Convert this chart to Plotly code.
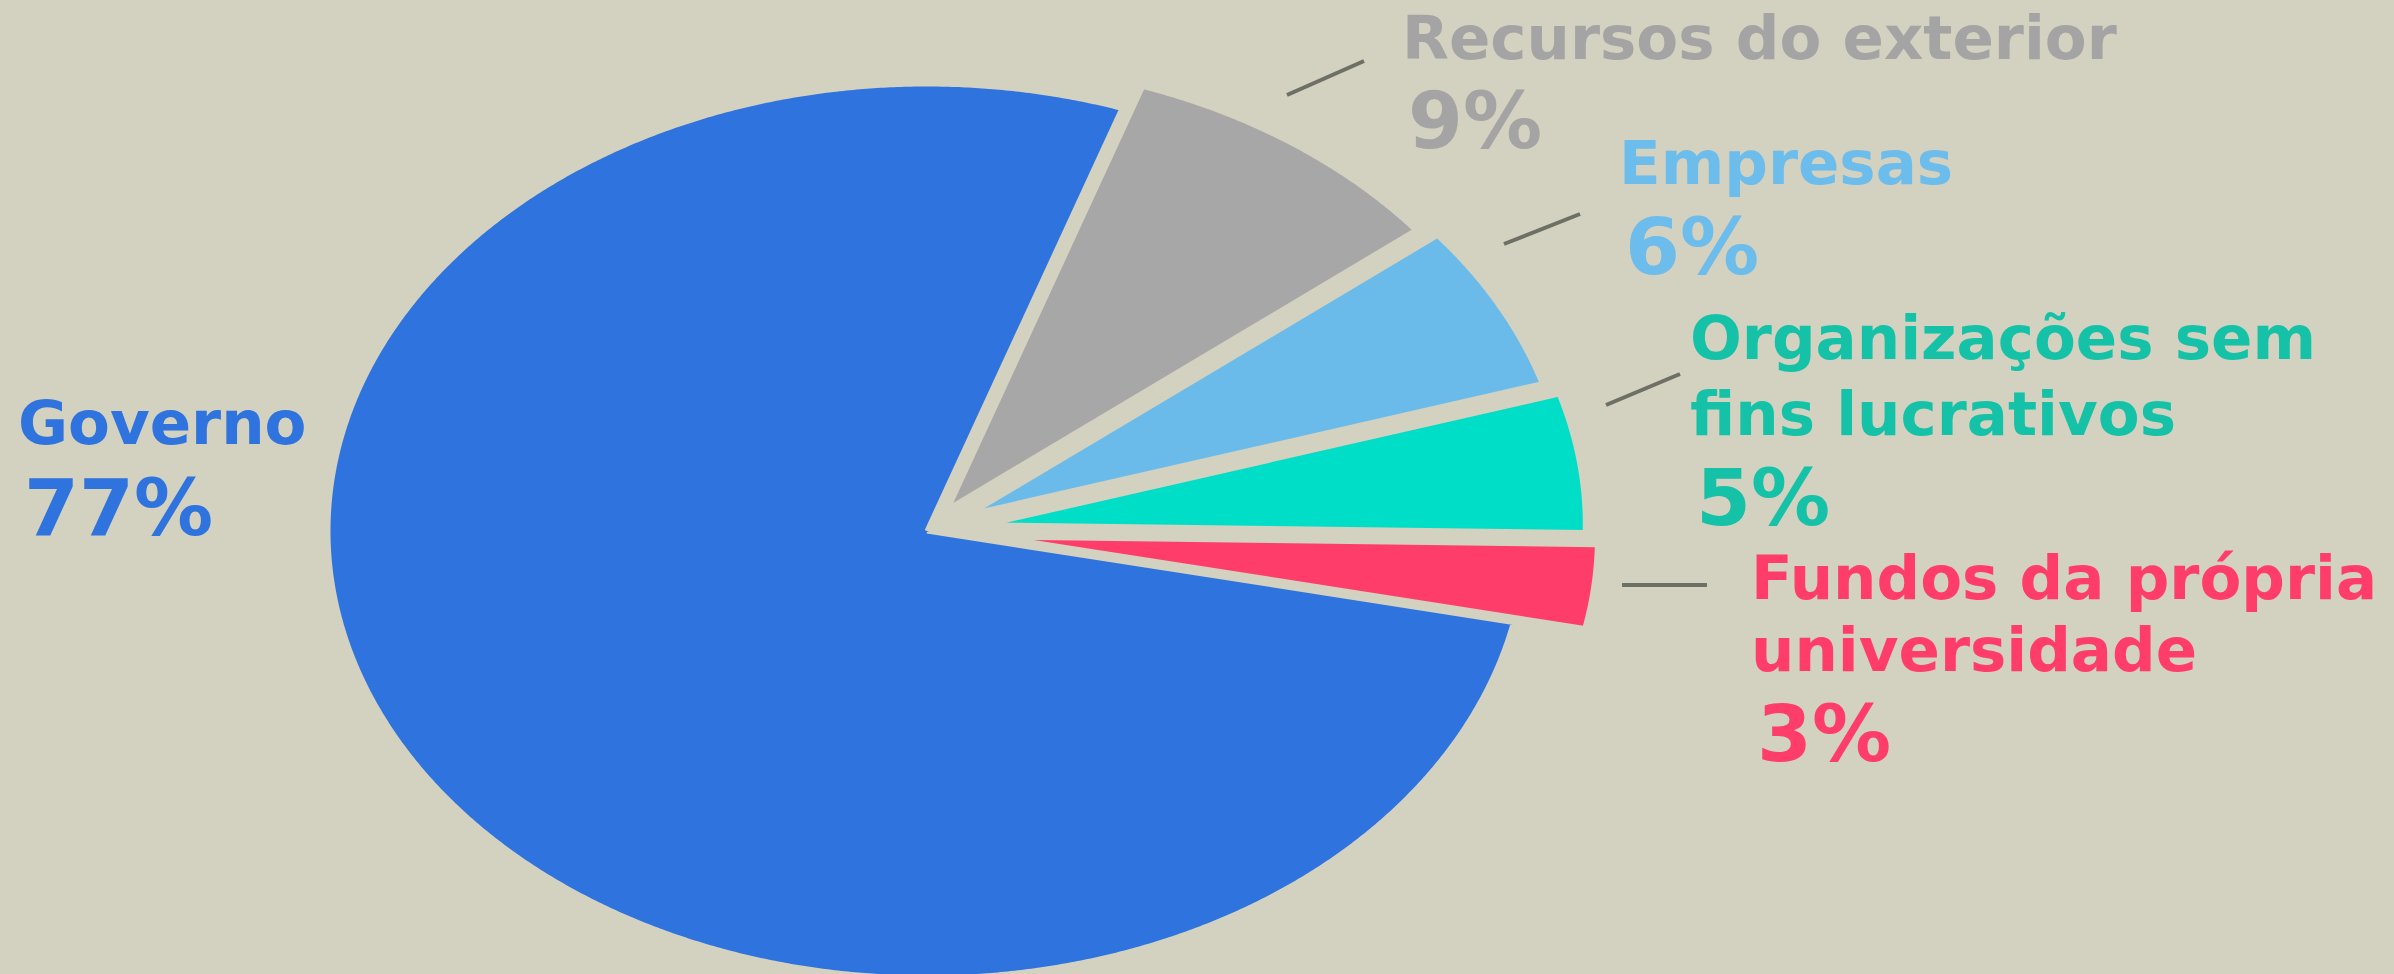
import numpy as np
import plotly.graph_objects as go

# Fontes de financiamento (%)
labels = ["Recursos do exterior", "Empresas", "Organizações sem fins lucrativos",
          "Fundos da própria universidade", "Governo"]
values = [9, 6, 5, 3, 77]
pct_text = ["9%", "6%", "5%", "3%", "77%"]
label_lines = [
    ["Recursos do exterior"],
    ["Empresas"],
    ["Organizações sem", "fins lucrativos"],
    ["Fundos da própria", "universidade"],
    ["Governo"],
]

colors = ["#a7a7a7", "#6bbbea", "#00dec8", "#ff3d6b", "#2e73de"]
text_colors = ["#a4a4a4", "#6cbcec", "#16c2a7", "#ff3d6b", "#2f73de"]
pulls = [0.06, 0.08, 0.10, 0.12, 0.0]

BG = "#d3d1bf"
W, H = 2394, 974
CX, CY = 927, 531      # centro da pizza (px)
RX, RY = 599, 447      # raios da elipse (px)
ROTATION = 19          # graus, sentido horário a partir das 12h

fig = go.Figure()

total = sum(values)
start = ROTATION
for lab, v, c, p in zip(labels, values, colors, pulls):
    span = v / total * 360
    theta = np.radians(np.linspace(start, start + span, int(span * 3) + 20))
    mid = np.radians(start + span / 2)
    ox, oy = p * np.sin(mid), p * np.cos(mid)
    xs = np.concatenate([[ox], ox + np.sin(theta), [ox]])
    ys = np.concatenate([[oy], oy + np.cos(theta), [oy]])
    fig.add_trace(go.Scatter(
        x=xs, y=ys, mode="lines", fill="toself", fillcolor=c,
        line=dict(color=BG, width=5, simplify=False), name=lab, hoverinfo="name",
        showlegend=False,
    ))
    start += span


def px_x(x):
    return x / W


def px_y(y):
    return 1 - y / H


# rótulos: x esquerdo, topo do nome, tamanho base (espaçamento entre linhas), topo do percentual (px)
label_pos = [
    (1400, 0, 61, 73),
    (1617, 125, 61, 199),
    (1688, 300, 58.5, 450),
    (1749, 540, 55.5, 686),
    (16, 385, 61, 460),
]
NAME_SIZE = 61
PCT_SIZE = 79

annotations = []
for lines, pt, (x, y, base, yp), col in zip(label_lines, pct_text, label_pos, text_colors):
    txt = "<br>".join(f"<span style='font-size:{NAME_SIZE}px'>{ln}</span>" for ln in lines)
    annotations.append(dict(
        text=txt, x=px_x(x), y=px_y(y), xref="paper", yref="paper",
        xanchor="left", yanchor="top", align="left", showarrow=False,
        font=dict(family="DejaVu Sans", size=base, weight="bold", color=col),
    ))
    annotations.append(dict(
        text=pt, x=px_x(x + 6), y=px_y(yp), xref="paper", yref="paper",
        xanchor="left", yanchor="top", showarrow=False,
        font=dict(family="DejaVu Sans", size=PCT_SIZE, weight="bold", color=col),
    ))

# linhas guia
leaders = [
    (1287, 95, 1364, 61),
    (1504, 244, 1580, 214),
    (1606, 405, 1680, 374),
    (1622, 585, 1707, 585),
]
shapes = [
    dict(type="line", xref="paper", yref="paper",
         x0=px_x(x0), y0=px_y(y0), x1=px_x(x1), y1=px_y(y1),
         line=dict(color="#6d7065", width=4))
    for x0, y0, x1, y1 in leaders
]

fig.update_layout(
    width=W, height=H,
    margin=dict(l=0, r=0, t=0, b=0),
    paper_bgcolor=BG, plot_bgcolor=BG,
    annotations=annotations, shapes=shapes,
    showlegend=False,
)
fig.update_xaxes(range=[-CX / RX, (W - CX) / RX], visible=False, fixedrange=True)
fig.update_yaxes(range=[-(H - CY) / RY, CY / RY], visible=False, fixedrange=True)

fig.write_html(
    "out.html",
    config={"displayModeBar": False},
    post_script="document.body.style.margin='0';document.body.style.overflow='hidden';",
)
